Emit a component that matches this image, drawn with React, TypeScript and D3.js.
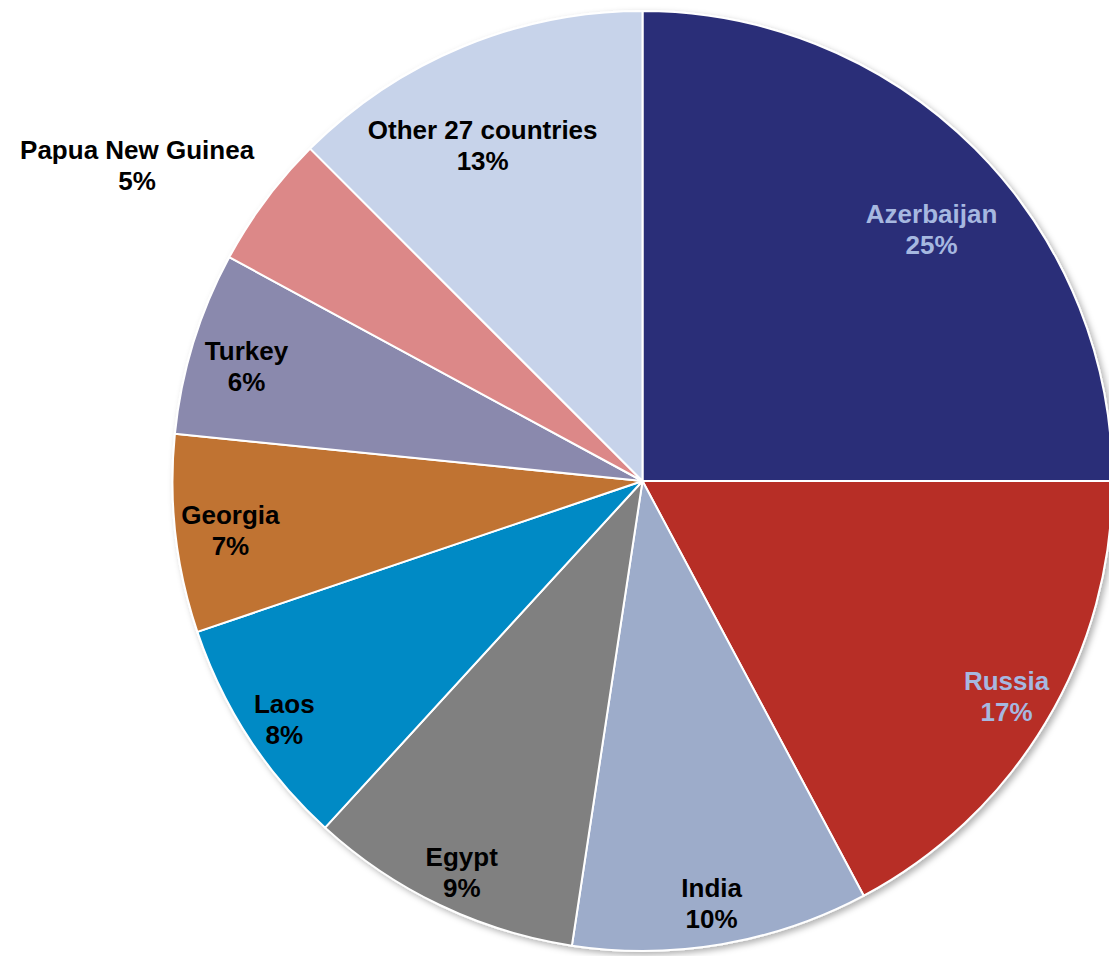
import React from "react";
import * as d3 from "d3";

const categories = [
  "Azerbaijan",
  "Russia",
  "India",
  "Egypt",
  "Laos",
  "Georgia",
  "Turkey",
  "Papua New Guinea",
  "Other 27 countries",
];
const shares = [25.0, 17.2, 10.2, 9.4, 8.0, 6.8, 6.3, 4.6, 12.5];
const colors = [
  "#2B2E78",
  "#B72D27",
  "#9DACCA",
  "#808080",
  "#008AC5",
  "#C07332",
  "#8A89AD",
  "#DC8888",
  "#C7D3EA",
];
const labelColors = [
  "#A6B8E0",
  "#A6B8E0",
  "#000",
  "#000",
  "#000",
  "#000",
  "#000",
  "#000",
  "#000",
];
// label placement: [angle in degrees clockwise from top, radius factor]
const labelPlacement: [number, number][] = [
  [49.0, 0.815],
  [120.6, 0.9],
  [170.7, 0.91],
  [204.8, 0.917],
  [236.3, 0.916],
  [263.2, 0.883],
  [286.1, 0.877],
  [302.0, 1.268],
  [334.5, 0.79],
];

const W = 1109;
const H = 956;
const cx = 642.5;
const cy = 481;
const R = 470;

export default function App() {
  const data = categories.map((c, i) => ({ name: c, value: shares[i], i }));
  const pie = d3
    .pie<any>()
    .value((d) => d.value)
    .sort(null);
  const arcs = pie(data);
  const arc = d3.arc<any>().innerRadius(0).outerRadius(R);
  const fs = 26;
  const lh = 31;
  return (
    <svg
      width={W}
      height={H}
      style={{ position: "absolute", left: 0, top: 0, background: "#fff" }}
      fontFamily="Liberation Sans, Arial, sans-serif"
    >
      <defs>
        <filter id="sh" x="-10%" y="-10%" width="120%" height="120%">
          <feDropShadow dx="3" dy="3" stdDeviation="3" floodColor="#000" floodOpacity="0.3" />
        </filter>
      </defs>
      <g transform={`translate(${cx},${cy})`}>
        <g filter="url(#sh)">
          {arcs.map((a, i) => (
            <path key={i} d={arc(a) as string} fill={colors[i]} stroke="#fff" strokeWidth={2} strokeLinejoin="round" />
          ))}
        </g>
        {arcs.map((a, i) => {
          const [ang, rf] = labelPlacement[i];
          const t = (ang * Math.PI) / 180;
          const x = Math.sin(t) * R * rf;
          const y = -Math.cos(t) * R * rf;
          const pct = Math.round(a.data.value) + "%";
          return (
            <text
              key={"l" + i}
              x={x}
              y={y}
              textAnchor="middle"
              fontSize={fs}
              fontWeight="bold"
              fill={labelColors[i]}
            >
              <tspan x={x} dy={-lh / 2 + fs * 0.35}>
                {a.data.name}
              </tspan>
              <tspan x={x} dy={lh}>
                {pct}
              </tspan>
            </text>
          );
        })}
      </g>
    </svg>
  );
}
